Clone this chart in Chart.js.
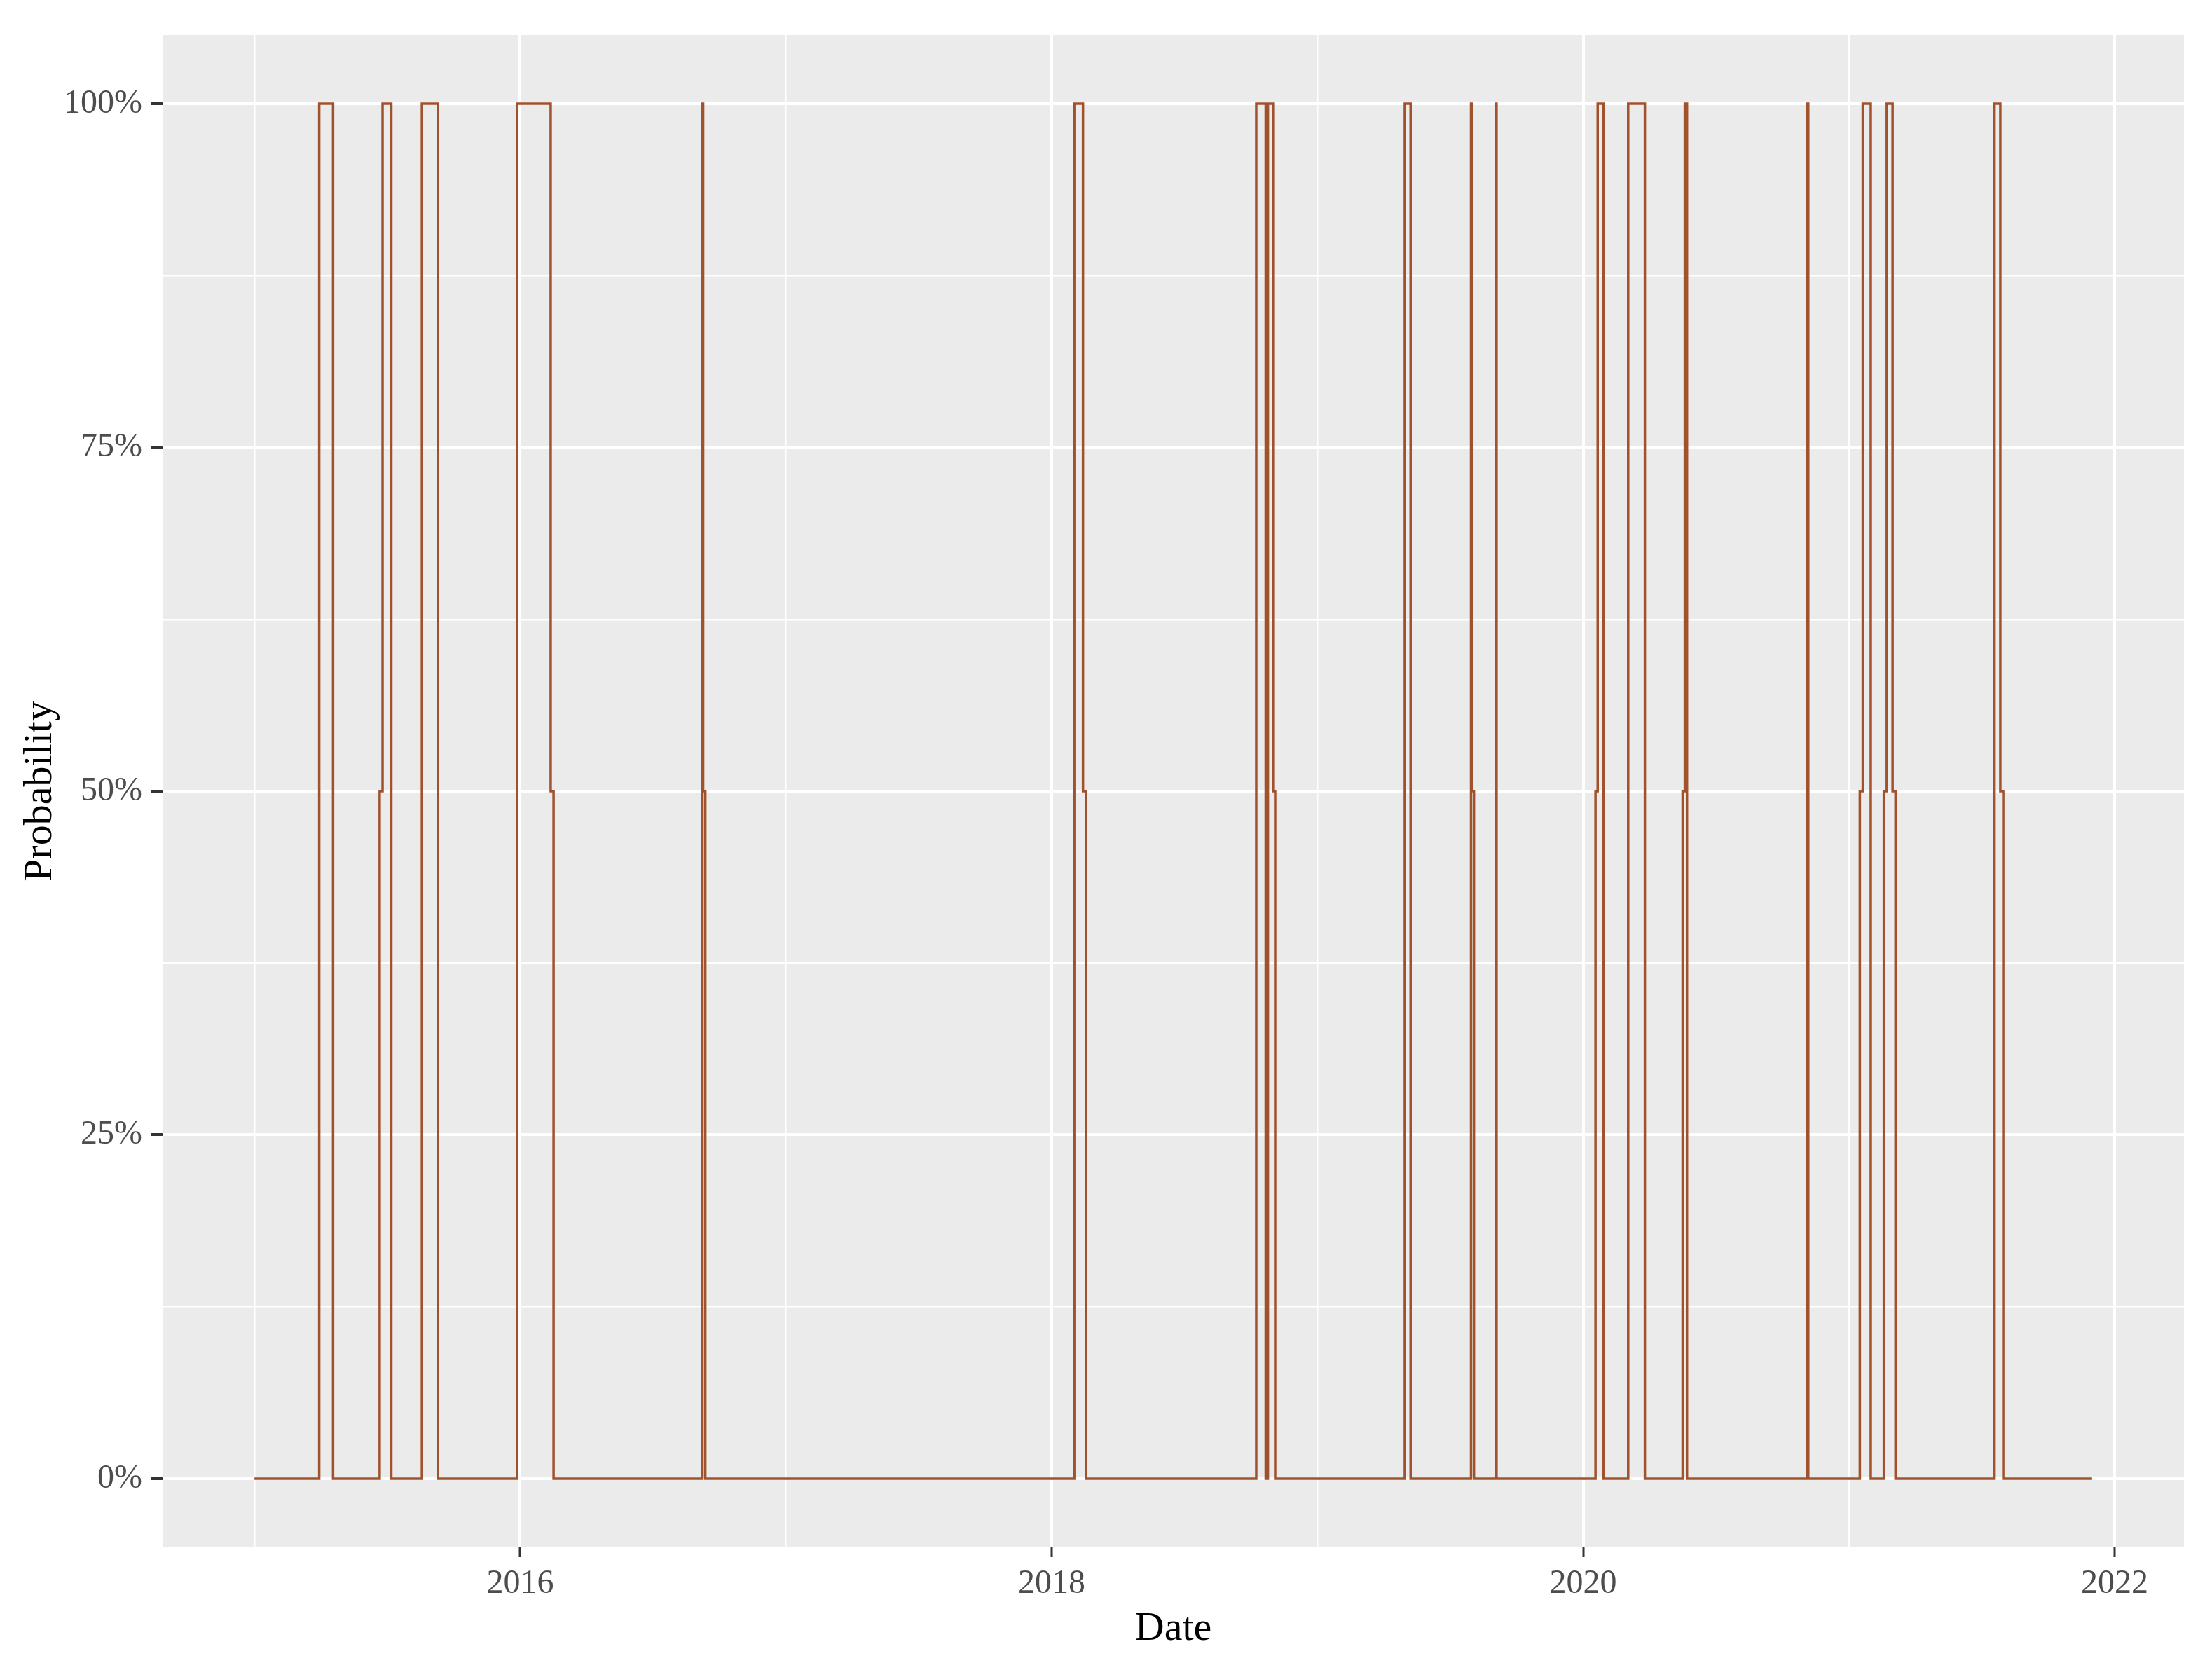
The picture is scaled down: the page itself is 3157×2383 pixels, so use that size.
<!DOCTYPE html>
<html>
<head>
    <title>Probability</title>
    <script src="https://cdn.jsdelivr.net/npm/chart.js"></script>
    <style>
        body { margin: 0; background: #ffffff; }
    </style>
</head>
<body>
    <canvas id="prob_chart" width="3157" height="2383"></canvas>
    <script>
        // change points of the step series (value holds from that date on)
        const dates = [
            '2015-01-01', '2015-03-31', '2015-04-19', '2015-06-22', '2015-06-26', '2015-07-08',
            '2015-08-19', '2015-09-10', '2015-12-28', '2016-02-12', '2016-02-16',
            '2016-09-08', '2016-09-09', '2016-09-12',
            '2018-02-01', '2018-02-13', '2018-02-17', '2018-10-09', '2018-10-22', '2018-10-25',
            '2018-11-01', '2018-11-04',
            '2019-05-01', '2019-05-09', '2019-07-31', '2019-08-01', '2019-08-04', '2019-09-03', '2019-09-04',
            '2020-01-18', '2020-01-21', '2020-01-29', '2020-03-03', '2020-03-26',
            '2020-05-17', '2020-05-20', '2020-05-23', '2020-11-05', '2020-11-06',
            '2021-01-16', '2021-01-20', '2021-01-31', '2021-02-18', '2021-02-22', '2021-03-02', '2021-03-06',
            '2021-07-20', '2021-07-28', '2021-08-01', '2021-12-01'
        ];
        const probs = [
            0, 1, 0, 0.5, 1, 0,
            1, 0, 1, 0.5, 0,
            1, 0.5, 0,
            1, 0.5, 0, 1, 0, 1,
            0.5, 0,
            1, 0, 1, 0.5, 0, 1, 0,
            0.5, 1, 0, 1, 0,
            0.5, 1, 0, 1, 0,
            0.5, 1, 0, 0.5, 1, 0.5, 0,
            1, 0.5, 0, 0
        ];
        const xTickYears = [2016, 2018, 2020, 2022];
        const yTicks = [0, 0.25, 0.5, 0.75, 1];

        function toYear(s) {
            const d = new Date(s + 'T00:00:00Z');
            const y = d.getUTCFullYear();
            const start = Date.UTC(y, 0, 1), end = Date.UTC(y + 1, 0, 1);
            return y + (d.getTime() - start) / (end - start);
        }

        const points = dates.map((d, i) => ({ x: toYear(d), y: probs[i] }));
        const xs = points.map(p => p.x);
        const xLo = Math.min(...xs), xHi = Math.max(...xs);
        const xPad = (xHi - xLo) * 0.05;

        // major + minor (midpoint) grid positions
        const xGrid = [];
        for (let i = 0; i < xTickYears.length; i++) {
            xGrid.push(xTickYears[i] - 1);
            xGrid.push(xTickYears[i]);
        }
        const yGrid = [];
        for (let i = 0; i < yTicks.length; i++) {
            yGrid.push(yTicks[i]);
            if (i < yTicks.length - 1) yGrid.push((yTicks[i] + yTicks[i + 1]) / 2);
        }

        const serif = '"Liberation Serif", "Times New Roman", serif';
        const isMajorX = v => xTickYears.includes(v);
        const isMajorY = v => yTicks.includes(v);

        const panelBg = {
            id: 'panelBg',
            beforeDraw(chart) {
                const { ctx, chartArea: a } = chart;
                ctx.save();
                ctx.fillStyle = '#EBEBEB';
                ctx.fillRect(a.left, a.top, a.right - a.left, a.bottom - a.top);
                ctx.restore();
            }
        };

        new Chart(document.getElementById('prob_chart'), {
            type: 'line',
            data: {
                datasets: [{
                    label: 'Probability',
                    data: points,
                    stepped: 'before',
                    borderColor: '#A0522D',
                    borderWidth: 3.5,
                    pointRadius: 0,
                    fill: false
                }]
            },
            options: {
                responsive: false,
                animation: false,
                layout: { padding: { top: 50, right: 40, left: 0, bottom: 0 } },
                plugins: { legend: { display: false }, tooltip: { enabled: false } },
                scales: {
                    x: {
                        type: 'linear',
                        min: xLo - xPad,
                        max: xHi + xPad,
                        afterFit: s => { s.height = 175; },
                        afterBuildTicks: s => { s.ticks = xGrid.map(v => ({ value: v })); },
                        border: { display: false },
                        grid: {
                            color: '#FFFFFF',
                            lineWidth: c => isMajorX(c.tick.value) ? 4 : 2.5,
                            tickColor: c => isMajorX(c.tick.value) ? '#333333' : 'rgba(0,0,0,0)',
                            tickLength: 14,
                            tickWidth: 3
                        },
                        ticks: {
                            autoSkip: false,
                            maxRotation: 0,
                            padding: 10,
                            color: '#4D4D4D',
                            font: { family: serif, size: 48 },
                            callback: v => isMajorX(v) ? String(v) : ''
                        },
                        title: {
                            display: true,
                            text: 'Date',
                            color: '#000000',
                            font: { family: serif, size: 58 },
                            padding: { top: 0, bottom: 23 }
                        }
                    },
                    y: {
                        min: -0.05,
                        max: 1.05,
                        afterFit: s => { s.width = 232; },
                        afterBuildTicks: s => { s.ticks = yGrid.map(v => ({ value: v })); },
                        border: { display: false },
                        grid: {
                            color: '#FFFFFF',
                            lineWidth: c => isMajorY(c.tick.value) ? 4 : 2.5,
                            tickColor: c => isMajorY(c.tick.value) ? '#333333' : 'rgba(0,0,0,0)',
                            tickLength: 16,
                            tickWidth: 4
                        },
                        ticks: {
                            autoSkip: false,
                            padding: 13,
                            color: '#4D4D4D',
                            font: { family: serif, size: 48 },
                            callback: v => isMajorY(v) ? Math.round(v * 100) + '%' : ''
                        },
                        title: {
                            display: true,
                            text: 'Probability',
                            color: '#000000',
                            font: { family: serif, size: 58 },
                            padding: { top: 23, bottom: 0 }
                        }
                    }
                }
            },
            plugins: [panelBg]
        });
    </script>
</body>
</html>
